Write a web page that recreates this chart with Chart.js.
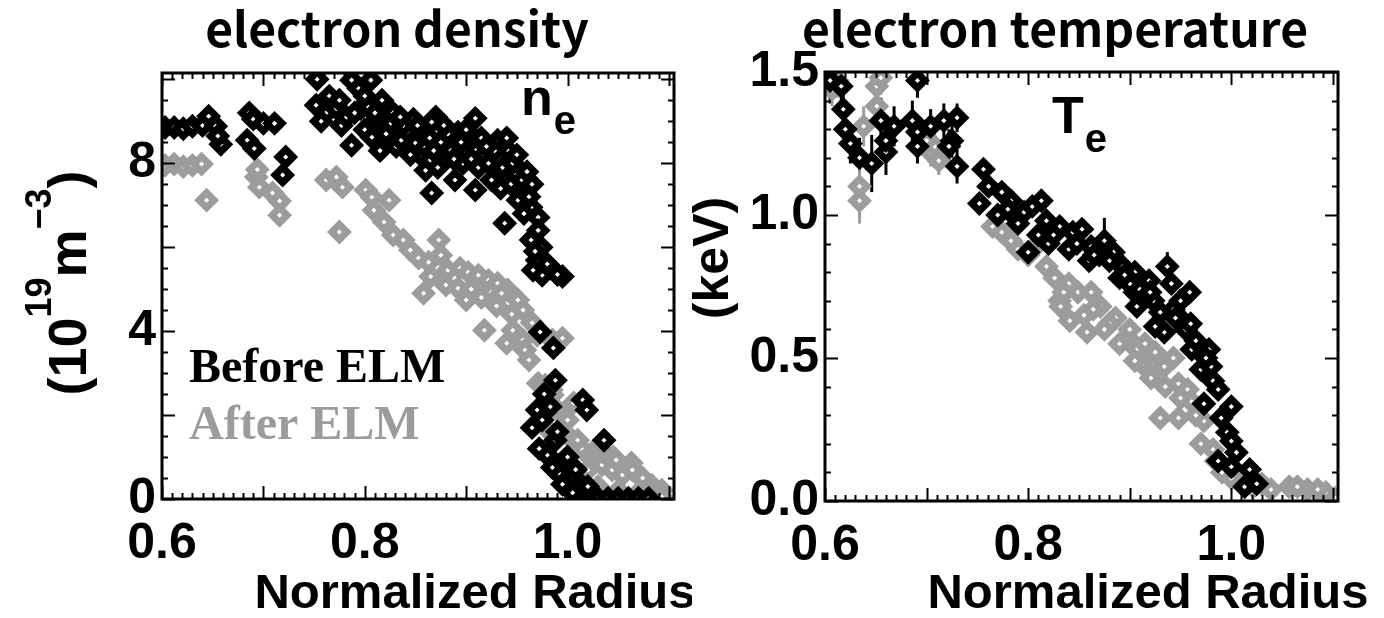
<!DOCTYPE html>
<html>
<head>
<meta charset="utf-8">
<script src="https://cdn.jsdelivr.net/npm/chart.js@4.4.1/dist/chart.umd.min.js"></script>
<style>
  html, body { margin: 0; padding: 0; background: #fff; }
  .panel { position: absolute; top: 0; width: 692px; height: 618px; }
</style>
</head>
<body>
<div class="panel" style="left:0"><canvas id="ne"></canvas></div>
<div class="panel" style="left:692px"><canvas id="te"></canvas></div>
<script>
// normalized radius ticks, shared by both panels
const radiusTicks = [0.6, 0.8, 1.0];
const densityTicks = [0, 4, 8];
const tempTicks = [0, 0.5, 1.0, 1.5];

// electron density (1e19 m^-3) vs normalized radius
const neBefore = [
  [0.603, 8.85], [0.612, 8.85], [0.621, 8.82], [0.630, 8.88], [0.640, 8.9], [0.646, 9.12], [0.653, 8.88],
  [0.658, 8.45], [0.655, 8.65], [0.686, 9.2], [0.690, 9.05], [0.684, 8.55], [0.691, 8.35], [0.700, 8.95],
  [0.711, 8.95], [0.722, 8.15], [0.719, 7.72], [0.752, 9.38], [0.762, 9.2], [0.753, 10.0], [0.787, 9.98],
  [0.794, 9.78], [0.806, 9.98], [0.777, 8.9], [0.782, 9.1], [0.787, 8.43], [0.796, 9.3], [0.800, 8.8],
  [0.807, 8.62], [0.812, 9.05], [0.817, 9.5], [0.821, 8.7], [0.826, 8.95], [0.831, 8.4], [0.836, 8.55],
  [0.842, 8.75], [0.850, 8.48], [0.855, 8.2], [0.860, 7.83], [0.866, 7.29], [0.870, 9.1], [0.866, 8.98],
  [0.860, 8.38], [0.875, 8.5], [0.879, 8.07], [0.885, 8.3], [0.892, 8.74], [0.897, 8.0], [0.902, 8.48],
  [0.909, 9.07], [0.912, 7.9], [0.909, 7.36], [0.918, 8.2], [0.925, 7.6], [0.931, 8.55], [0.936, 7.9],
  [0.941, 8.31], [0.944, 7.5], [0.948, 7.76], [0.951, 7.12], [0.938, 6.57], [0.958, 7.3], [0.964, 6.95],
  [0.971, 6.71], [0.971, 6.4], [0.964, 6.17], [0.974, 6.0], [0.970, 5.69], [0.975, 5.33], [0.966, 5.45],
  [0.983, 5.5], [0.995, 5.3], [0.973, 3.98], [0.986, 3.6], [0.988, 2.83], [0.970, 2.12], [1.015, 2.36],
  [1.019, 2.12], [0.975, 1.88], [0.988, 1.4], [0.997, 0.93], [1.006, 0.52], [1.036, 1.4], [0.980, 1.05],
  [0.992, 0.6], [1.000, 0.3], [1.010, 0.05], [1.020, 0.02], [1.030, 0.02], [1.040, 0.02], [1.050, 0.02],
  [1.060, 0.02], [1.070, 0.02], [1.080, 0.02],
  [0.757, 9.0], [0.765, 9.6], [0.772, 9.3], [0.790, 9.2], [0.803, 9.35], [0.815, 8.3], [0.828, 9.2],
  [0.838, 8.9], [0.845, 8.2], [0.848, 9.05], [0.856, 8.7], [0.864, 8.6], [0.872, 7.9], [0.882, 8.7],
  [0.889, 7.6], [0.895, 8.5], [0.905, 8.1], [0.915, 8.6], [0.922, 8.0], [0.928, 8.3], [0.934, 7.4],
  [0.946, 8.0], [0.955, 7.6], [0.962, 7.2], [0.957, 6.8], [0.968, 5.9], [0.980, 5.6], [0.990, 5.35],
  [0.977, 2.5], [0.965, 1.7], [0.972, 1.2], [0.985, 0.75], [0.995, 0.35], [1.005, 0.15], [0.983, 2.2],
  [0.990, 1.6], [1.000, 1.0], [1.008, 0.7], [1.020, 0.3],
  [0.775, 9.5], [0.800, 9.6], [0.810, 9.2], [0.835, 9.1], [0.852, 8.9], [0.868, 8.3], [0.878, 8.9],
  [0.888, 8.1], [0.900, 8.8], [0.920, 8.4], [0.940, 8.6], [0.950, 8.2], [0.960, 7.8], [0.965, 7.5]
];
const neAfter = [
  [0.603, 7.95], [0.612, 7.98], [0.621, 7.92], [0.630, 7.95], [0.639, 7.98], [0.644, 7.12], [0.693, 7.67],
  [0.696, 7.43], [0.694, 7.85], [0.709, 7.29], [0.716, 7.1], [0.716, 6.76], [0.762, 7.6], [0.772, 7.67],
  [0.778, 7.43], [0.775, 6.36], [0.801, 7.36], [0.807, 7.19], [0.809, 6.88], [0.819, 6.6], [0.824, 7.12],
  [0.828, 6.29], [0.838, 6.17], [0.845, 5.93], [0.853, 5.74], [0.863, 5.64], [0.873, 6.17], [0.875, 5.81],
  [0.858, 4.9], [0.882, 5.45], [0.892, 5.02], [0.894, 5.5], [0.900, 4.74], [0.902, 5.4], [0.912, 5.33],
  [0.918, 4.02], [0.922, 5.21], [0.931, 5.14], [0.940, 3.71], [0.941, 4.98], [0.946, 4.02], [0.951, 4.74],
  [0.956, 4.5], [0.956, 3.79], [0.958, 3.55], [0.962, 3.31], [0.971, 2.76], [0.978, 2.71], [0.984, 2.6],
  [0.985, 3.79], [0.995, 3.83], [0.985, 2.48], [0.990, 2.12], [1.000, 1.88], [1.006, 2.29], [0.984, 1.57],
  [1.005, 1.4], [1.010, 1.4], [1.015, 1.17], [1.024, 1.1], [1.025, 0.93], [1.029, 1.05], [1.034, 0.81],
  [1.038, 1.05], [1.045, 1.0], [1.044, 0.69], [1.048, 0.93], [1.054, 0.57], [1.063, 0.86], [1.064, 0.69],
  [1.072, 0.52], [1.074, 0.5], [1.083, 0.33], [1.085, 0.21], [1.093, 0.21], [1.093, 0.05], [1.020, 0.69],
  [1.010, 0.45], [1.030, 0.3], [1.050, 0.2], [1.070, 0.15],
  [0.865, 5.3], [0.880, 5.1], [0.905, 5.0], [0.915, 4.8], [0.930, 4.6], [0.935, 4.9], [0.945, 4.4],
  [0.965, 4.2], [0.970, 3.9]
];

// electron temperature (keV) vs normalized radius; third value is the error bar half-height
const teBefore = [
  [0.605, 1.47, 0.08], [0.616, 1.45, 0.08], [0.618, 1.37, 0.08], [0.625, 1.25, 0.07], [0.634, 1.2, 0.07],
  [0.646, 1.18, 0.1], [0.660, 1.22, 0.08], [0.655, 1.33, 0.08], [0.660, 1.26, 0.07], [0.668, 1.31, 0.07],
  [0.620, 1.3, 0.06], [0.691, 1.47, 0.06], [0.686, 1.33, 0.07], [0.691, 1.29, 0.06], [0.704, 1.31, 0.06],
  [0.717, 1.33, 0.06], [0.725, 1.26, 0.06], [0.730, 1.34, 0.05], [0.722, 1.24, 0.06], [0.730, 1.17, 0.06],
  [0.691, 1.24, 0.06], [0.756, 1.16, 0.03], [0.761, 1.1], [0.752, 1.04], [0.774, 1.08, 0.03], [0.783, 1.05],
  [0.796, 1.01], [0.804, 1.03, 0.03], [0.813, 1.05], [0.818, 0.98], [0.800, 0.87], [0.831, 0.96, 0.03],
  [0.844, 0.94], [0.853, 0.95, 0.03], [0.862, 0.89], [0.875, 0.91, 0.08], [0.884, 0.87], [0.893, 0.82, 0.04],
  [0.905, 0.8], [0.919, 0.77, 0.04], [0.937, 0.82, 0.05], [0.941, 0.76], [0.950, 0.7, 0.04], [0.959, 0.73],
  [0.923, 0.7], [0.905, 0.73], [0.907, 0.68], [0.934, 0.59], [0.952, 0.63], [0.961, 0.53, 0.03],
  [0.978, 0.53], [0.970, 0.46], [0.982, 0.42], [0.987, 0.39], [1.000, 0.33], [0.973, 0.34], [0.996, 0.24],
  [1.000, 0.21], [0.987, 0.14], [1.000, 0.12], [1.018, 0.11], [1.013, 0.05], [0.925, 0.61], [0.943, 0.67],
  [0.770, 1.0], [0.790, 0.97], [0.810, 0.93], [0.820, 0.9], [0.840, 0.88], [0.860, 0.84], [0.870, 0.86],
  [0.890, 0.78], [0.900, 0.76], [0.915, 0.72], [0.930, 0.66], [0.955, 0.6], [0.965, 0.56], [0.980, 0.47],
  [0.990, 0.29], [1.005, 0.17], [1.025, 0.06],
  [0.780, 1.02], [0.825, 0.93], [0.848, 0.9], [0.865, 0.86], [0.880, 0.84], [0.895, 0.79], [0.910, 0.74],
  [0.920, 0.73], [0.945, 0.64], [0.960, 0.62], [0.975, 0.5]
];
const teAfter = [
  [0.607, 1.44, 0.06], [0.612, 1.47, 0.06], [0.638, 1.31, 0.07], [0.651, 1.38, 0.07], [0.651, 1.45, 0.06],
  [0.655, 1.48, 0.06], [0.634, 1.1, 0.08], [0.634, 1.05, 0.08], [0.704, 1.22, 0.05], [0.712, 1.19, 0.05],
  [0.708, 1.24, 0.05], [0.700, 1.26, 0.05], [0.765, 0.96], [0.774, 0.94], [0.783, 0.91], [0.810, 0.9],
  [0.818, 0.82], [0.826, 0.78], [0.840, 0.76], [0.849, 0.73], [0.831, 0.7], [0.862, 0.73], [0.871, 0.68],
  [0.832, 0.68], [0.841, 0.63], [0.858, 0.59], [0.864, 0.67], [0.886, 0.64], [0.898, 0.57], [0.907, 0.53],
  [0.912, 0.48], [0.921, 0.43], [0.934, 0.47], [0.943, 0.5], [0.948, 0.41], [0.957, 0.39], [0.930, 0.29],
  [0.948, 0.29], [0.973, 0.28], [0.970, 0.2], [0.982, 0.18], [0.991, 0.1], [1.009, 0.07], [1.022, 0.05],
  [1.039, 0.04], [1.057, 0.05], [1.075, 0.04], [1.093, 0.03], [1.102, 0.01], [0.925, 0.52], [0.880, 0.62],
  [0.900, 0.6], [0.915, 0.55], [0.960, 0.35], [0.985, 0.14], [1.000, 0.08], [1.030, 0.06], [1.065, 0.05],
  [1.085, 0.04],
  [0.790, 0.88], [0.800, 0.86], [0.835, 0.73], [0.855, 0.65], [0.875, 0.6], [0.890, 0.55], [0.905, 0.49],
  [0.935, 0.4], [0.950, 0.36], [0.965, 0.3]
];

const SANS = '"Liberation Sans", Arial, Helvetica, sans-serif';
const SERIF = '"Liberation Serif", "Times New Roman", serif';
const TITLE = '"Noto Sans CJK KR", "Noto Sans", sans-serif';
const BLACK = '#000000';
const GREY = '#9c9c9c';

const toXY = arr => arr.map(p => ({ x: p[0], y: p[1], err: p[2] || 0 }));

// draws a row of text runs along one baseline; runs can be raised (superscripts)
function drawRuns(ctx, runs, x, y, rot) {
  ctx.save();
  ctx.translate(x, y);
  ctx.rotate(rot || 0);
  let total = 0;
  runs.forEach(r => {
    ctx.font = 'bold ' + r.size + 'px ' + SANS;
    r.w = ctx.measureText(r.t).width;
    total += r.w;
  });
  let cx = -total / 2;
  ctx.textAlign = 'left';
  ctx.textBaseline = 'alphabetic';
  ctx.fillStyle = BLACK;
  runs.forEach(r => {
    ctx.font = 'bold ' + r.size + 'px ' + SANS;
    ctx.fillText(r.t, cx, -(r.dy || 0));
    cx += r.w;
  });
  ctx.restore();
}

// vertical error bars under the markers
const errorBars = {
  id: 'errorBars',
  beforeDatasetsDraw(chart) {
    const ctx = chart.ctx;
    const { left, right, top, bottom } = chart.chartArea;
    const xs = chart.scales.x, ys = chart.scales.y;
    ctx.save();
    ctx.beginPath();
    ctx.rect(left, top, right - left, bottom - top);
    ctx.clip();
    ctx.lineWidth = 3;
    chart.data.datasets.forEach(ds => {
      ctx.strokeStyle = ds.pointBorderColor;
      ds.data.forEach(p => {
        if (!p.err) return;
        const px = xs.getPixelForValue(p.x);
        ctx.beginPath();
        ctx.moveTo(px, ys.getPixelForValue(p.y - p.err));
        ctx.lineTo(px, ys.getPixelForValue(p.y + p.err));
        ctx.stroke();
      });
    });
    ctx.restore();
  }
};

// frame with inward ticks on all four sides, plus the panel's labels
const panelDecor = {
  id: 'panelDecor',
  afterDatasetsDraw(chart, args, o) {
    const ctx = chart.ctx;
    const { left, right, top, bottom } = chart.chartArea;
    const xs = chart.scales.x, ys = chart.scales.y;
    ctx.save();
    ctx.strokeStyle = BLACK;
    ctx.lineWidth = 2;
    const eps = 1e-9;
    for (let v = xs.min; v <= xs.max + eps; v += o.xMinor) {
      const px = Math.round(xs.getPixelForValue(v)) + 0.5;
      const k = Math.abs(v / o.xMajor - Math.round(v / o.xMajor)) < 1e-6;
      const len = k ? o.majorLen : o.minorLen;
      ctx.beginPath();
      ctx.moveTo(px, bottom); ctx.lineTo(px, bottom - len);
      ctx.moveTo(px, top); ctx.lineTo(px, top + len);
      ctx.stroke();
    }
    for (let v = ys.min; v <= ys.max + eps; v += o.yMinor) {
      const py = Math.round(ys.getPixelForValue(v)) + 0.5;
      const k = Math.abs(v / o.yMajor - Math.round(v / o.yMajor)) < 1e-6;
      const len = k ? o.majorLen : o.minorLen;
      ctx.beginPath();
      ctx.moveTo(left, py); ctx.lineTo(left + len, py);
      ctx.moveTo(right, py); ctx.lineTo(right - len, py);
      ctx.stroke();
    }
    ctx.lineWidth = 3;
    ctx.strokeRect(left, top, right - left, bottom - top);

    // panel heading
    ctx.fillStyle = BLACK;
    ctx.textAlign = 'center';
    ctx.textBaseline = 'alphabetic';
    ctx.font = 'bold 48px ' + TITLE;
    ctx.fillText(o.heading, o.headingX, 47);

    // x axis title
    ctx.font = 'bold 49px ' + SANS;
    ctx.fillText('Normalized Radius', o.xTitleX, 608);

    // quantity symbol with subscript
    ctx.textAlign = 'left';
    ctx.font = 'bold 52px ' + SANS;
    ctx.fillText(o.sym[0], o.symX, o.symY);
    const w = ctx.measureText(o.sym[0]).width;
    ctx.font = 'bold 40px ' + SANS;
    ctx.fillText(o.sym[1], o.symX + w + 1, o.symY + 19);

    // y axis title, rotated
    drawRuns(ctx, o.yTitle, o.yTitleX, o.yTitleY, -Math.PI / 2);

    // series labels
    if (o.legend) {
      ctx.font = 'bold 48px ' + SERIF;
      ctx.fillStyle = BLACK;
      ctx.fillText('Before ELM', 189, 382);
      ctx.fillStyle = GREY;
      ctx.fillText('After ELM', 189, 439);
    }
    ctx.restore();
  }
};

function scatterSet(label, pts, color) {
  return {
    label: label,
    data: toXY(pts),
    showLine: false,
    pointStyle: 'rectRot',
    pointRadius: 7.5,
    pointBorderWidth: 7,
    pointBorderColor: color,
    pointBackgroundColor: '#ffffff',
    borderColor: color,
    clip: 0
  };
}

function panel(id, cfg) {
  const tickFont = { family: SANS, size: 50, weight: 'bold' };
  return new Chart(document.getElementById(id), {
    type: 'scatter',
    data: {
      datasets: [
        scatterSet('Before ELM', cfg.before, BLACK),
        scatterSet('After ELM', cfg.after, GREY)
      ]
    },
    plugins: [errorBars, panelDecor],
    options: {
      responsive: true,
      maintainAspectRatio: false,
      animation: false,
      events: [],
      layout: { padding: { left: 0, top: cfg.top, right: cfg.right, bottom: 0 } },
      plugins: {
        legend: { display: false },
        tooltip: { enabled: false },
        panelDecor: cfg.decor
      },
      scales: {
        x: {
          type: 'linear',
          min: 0.6,
          max: 1.105,
          afterBuildTicks: s => { s.ticks = radiusTicks.map(v => ({ value: v })); },
          afterFit: s => { s.height = cfg.xHeight; },
          grid: { display: false, drawTicks: false },
          border: { display: false },
          ticks: {
            font: tickFont, color: BLACK, padding: 15, maxRotation: 0, autoSkip: false,
            callback: v => v.toFixed(1)
          }
        },
        y: {
          type: 'linear',
          min: 0,
          max: cfg.yMax,
          afterBuildTicks: s => { s.ticks = cfg.yTicks.map(v => ({ value: v })); },
          afterFit: s => { s.width = cfg.yWidth; },
          grid: { display: false, drawTicks: false },
          border: { display: false },
          ticks: {
            font: tickFont, color: BLACK, padding: 6, autoSkip: false,
            callback: cfg.yFmt
          }
        }
      }
    }
  });
}

panel('ne', {
  before: neBefore,
  after: neAfter,
  yMax: 10.15,
  yTicks: densityTicks,
  yFmt: v => String(v),
  top: 73, right: 18, yWidth: 162, xHeight: 119,
  decor: {
    xMinor: 0.01, xMajor: 0.1, yMinor: 0.5, yMajor: 2, minorLen: 6, majorLen: 13,
    heading: 'electron density', headingX: 397, xTitleX: 475,
    sym: ['n', 'e'], symX: 521, symY: 115,
    yTitle: [
      { t: '(10', size: 54 }, { t: '19', size: 36, dy: 35 }, { t: 'm', size: 54 },
      { t: '\u22123', size: 36, dy: 35 }, { t: ')', size: 54 }
    ],
    yTitleX: 86, yTitleY: 283,
    legend: true
  }
});

panel('te', {
  before: teBefore,
  after: teAfter,
  yMax: 1.5,
  yTicks: tempTicks,
  yFmt: v => v.toFixed(1),
  top: 72, right: 46, yWidth: 133, xHeight: 117,
  decor: {
    xMinor: 0.01, xMajor: 0.1, yMinor: 0.1, yMajor: 0.5, minorLen: 6, majorLen: 13,
    heading: 'electron temperature', headingX: 363, xTitleX: 456,
    sym: ['T', 'e'], symX: 360, symY: 133,
    yTitle: [{ t: '(keV)', size: 50 }],
    yTitleX: 36, yTitleY: 258,
    legend: false
  }
});
</script>
</body>
</html>
